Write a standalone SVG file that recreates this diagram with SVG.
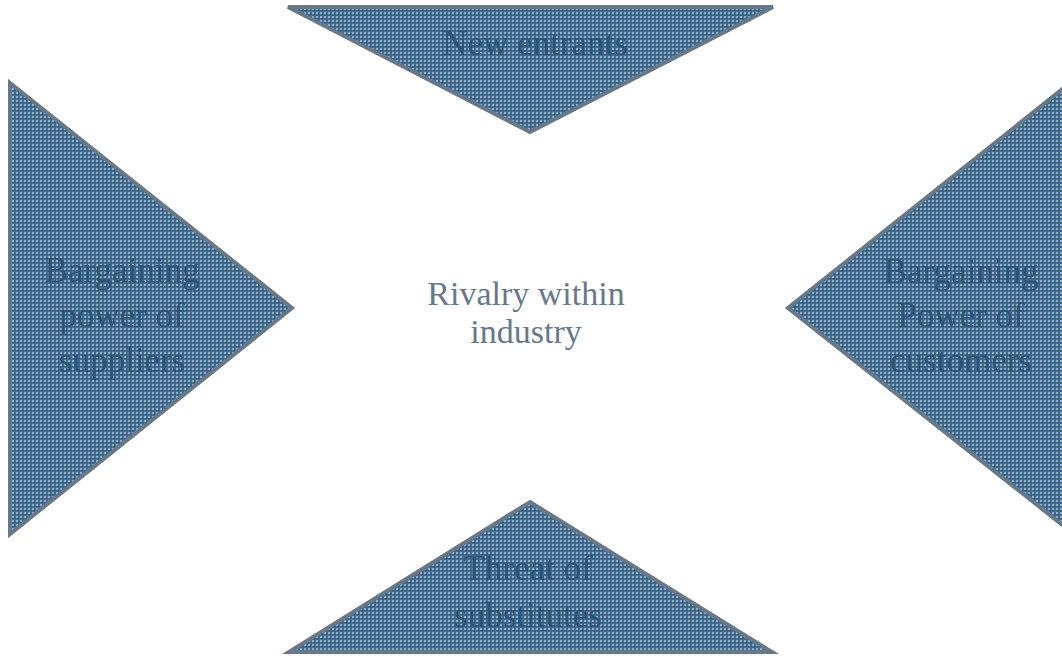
<svg xmlns="http://www.w3.org/2000/svg" width="1062" height="656" viewBox="0 0 1062 656">
<defs>
<pattern id="dots" x="0" y="0" width="4" height="4" patternUnits="userSpaceOnUse">
<rect width="4" height="4" fill="#3f6a8e"/>
<rect x="0" y="0" width="2" height="2" fill="#93b0c6"/>
<rect x="2" y="2" width="1" height="1" fill="#2b5478"/>
</pattern>
</defs>
<style>
.tri{fill:url(#dots);stroke:#677889;stroke-width:4;stroke-linejoin:miter}
.lbl{font-family:"Liberation Serif","Times New Roman",serif;font-size:35px;fill:#2b5477;text-anchor:middle}
.ctr{font-family:"Liberation Serif","Times New Roman",serif;font-size:34px;fill:#667889;text-anchor:middle}
</style>
<rect width="1062" height="656" fill="#ffffff"/>
<g id="new-entrants">
<polygon class="tri" points="288,7 773,7 530,132"/>
<text class="lbl" x="535" y="55">New entrants</text>
</g>
<g id="suppliers">
<polygon class="tri" points="10,83 292,308 10,534"/>
<text class="lbl" x="122" y="282">Bargaining</text>
<text class="lbl" x="122" y="327">power of</text>
<text class="lbl" x="122" y="372">suppliers</text>
</g>
<g id="customers">
<polygon class="tri" points="1065,87 788,308 1065,527"/>
<text class="lbl" x="961" y="283">Bargaining</text>
<text class="lbl" x="961" y="327">Power of</text>
<text class="lbl" x="961" y="372">customers</text>
</g>
<g id="substitutes">
<polygon class="tri" points="530,502 772,652 289,652"/>
<text class="lbl" x="528" y="580">Threat of</text>
<text class="lbl" x="528" y="627">substitutes</text>
</g>
<g id="rivalry">
<text class="ctr" x="526" y="305">Rivalry within</text>
<text class="ctr" x="526" y="343">industry</text>
</g>
<g id="connectors"></g>
</svg>
